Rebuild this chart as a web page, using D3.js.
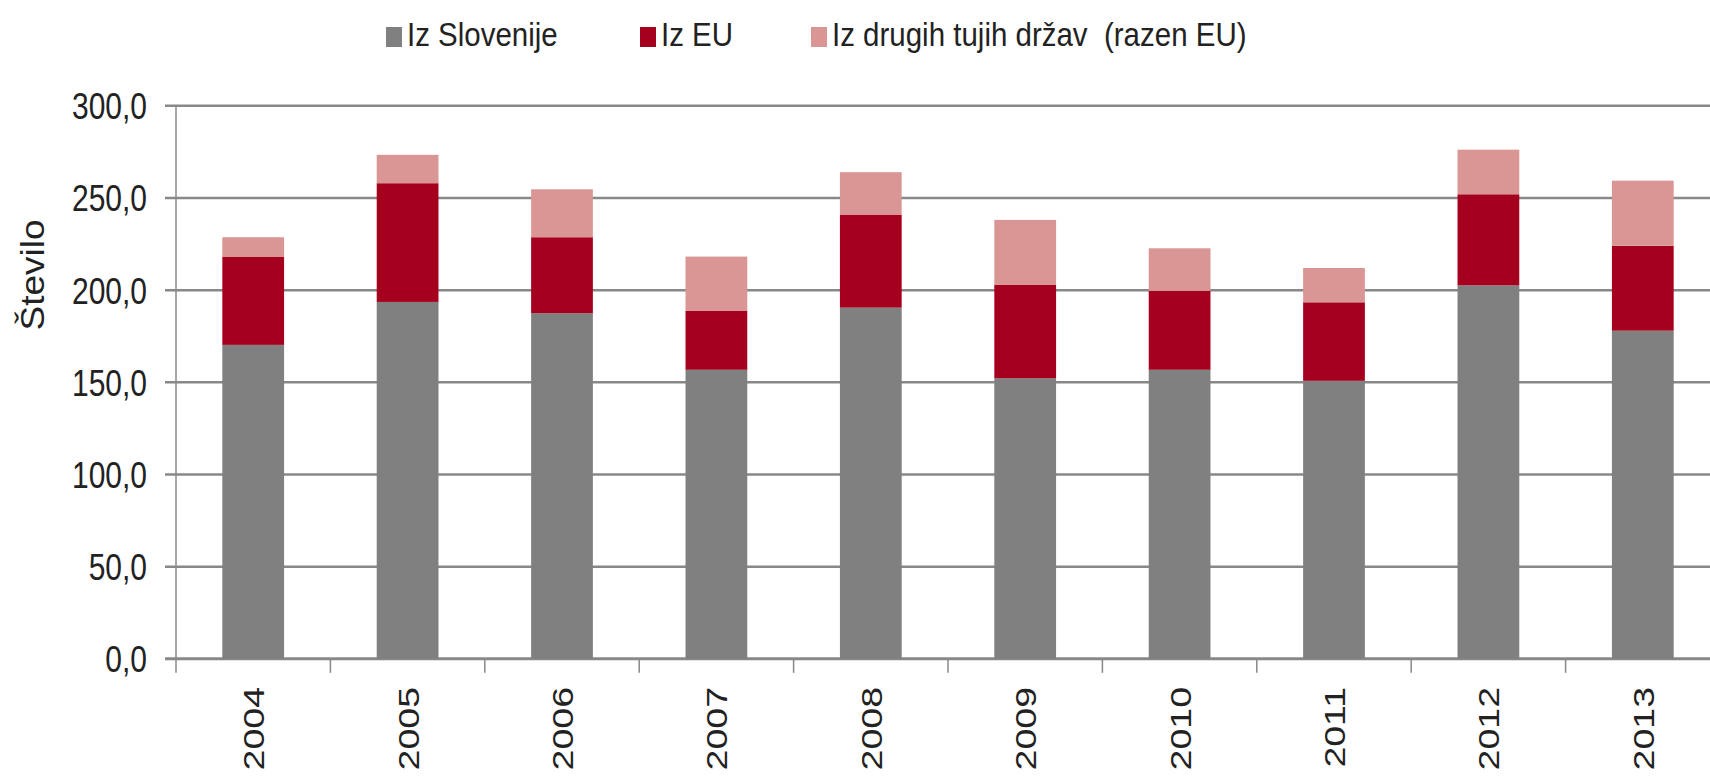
<!DOCTYPE html>
<html>
<head>
<meta charset="utf-8">
<script src="https://cdn.jsdelivr.net/npm/d3@7"></script>
<style>
  html, body { margin: 0; padding: 0; background: #fff; overflow: hidden; }
  text { font-family: "Liberation Sans", Arial, sans-serif; fill: #222; white-space: pre; }
</style>
</head>
<body>
<script>
var years = ['2004', '2005', '2006', '2007', '2008', '2009', '2010', '2011', '2012', '2013'];
var seriesNames = ['Iz Slovenije', 'Iz EU', 'Iz drugih tujih držav  (razen EU)'];
var fromSlovenia = [170.3, 193.6, 187.5, 156.8, 190.5, 152.2, 156.8, 150.8, 202.6, 178.0];
var fromEU = [47.9, 64.4, 41.2, 32.1, 50.5, 50.8, 42.8, 42.6, 49.4, 46.1];
var fromOther = [10.5, 15.4, 26.0, 29.3, 23.0, 35.1, 23.1, 18.6, 24.2, 35.3];
var yTicks = [0, 50, 100, 150, 200, 250, 300];

var chart = function() {
  var width = 1710;
  var height = 779;
  var left = 176;
  var right = 1720;
  var top = 105.8;
  var bottom = 658.8;
  var colors = ['#808080', '#a6001f', '#da9694'];
  var gridColor = '#888888';
  var svg, x, y;

  var fmt = function(v) {
    return v.toFixed(1).replace('.', ',');
  };

  var createSvg = function() {
    svg = d3.select('body')
      .append('svg')
      .attr('width', width)
      .attr('height', height);
  };

  var setScales = function() {
    x = d3.scaleBand().domain(years).range([left, right]).paddingInner(0.6).paddingOuter(0.3);
    y = d3.scaleLinear().domain([0, 300]).range([bottom, top]);
  };

  var drawGrid = function() {
    svg.append('g')
      .selectAll('line')
      .data(yTicks)
      .join('line')
      .attr('x1', left - 11)
      .attr('x2', width)
      .attr('y1', function(d) { return y(d); })
      .attr('y2', function(d) { return y(d); })
      .style('stroke', gridColor)
      .style('stroke-width', function(d) { return d === 0 ? 3 : 2.5; });

    svg.append('line')
      .attr('x1', left).attr('x2', left)
      .attr('y1', top).attr('y2', bottom)
      .style('stroke', gridColor)
      .style('stroke-width', 1.5);

    // ticks between categories
    var step = x.step();
    svg.append('g')
      .selectAll('line')
      .data(d3.range(years.length + 1))
      .join('line')
      .attr('x1', function(i) { return left + i * step; })
      .attr('x2', function(i) { return left + i * step; })
      .attr('y1', bottom)
      .attr('y2', bottom + 14)
      .style('stroke', gridColor)
      .style('stroke-width', 1.5);
  };

  var drawBars = function() {
    var rows = years.map(function(yr, i) {
      return { year: yr, s0: fromSlovenia[i], s1: fromEU[i], s2: fromOther[i] };
    });
    var stack = d3.stack().keys(['s0', 's1', 's2'])(rows);

    svg.append('g')
      .selectAll('g')
      .data(stack)
      .join('g')
      .style('fill', function(d, i) { return colors[i]; })
      .selectAll('rect')
      .data(function(d) { return d; })
      .join('rect')
      .attr('x', function(d) { return x(d.data.year); })
      .attr('width', x.bandwidth())
      .attr('y', function(d) { return y(d[1]); })
      .attr('height', function(d) { return y(d[0]) - y(d[1]); });
  };

  var drawLabels = function() {
    svg.append('g')
      .selectAll('text')
      .data(yTicks)
      .join('text')
      .attr('transform', function(d) { return 'translate(147,' + y(d) + ') scale(1,1.25)'; })
      .attr('dy', '0.358em')
      .attr('text-anchor', 'end')
      .style('font-size', '30px')
      .text(fmt);

    svg.append('g')
      .selectAll('text')
      .data(years)
      .join('text')
      .attr('transform', function(d) {
        return 'translate(' + (x(d) + x.bandwidth() / 2 + 11) + ',687) scale(1,1.25) rotate(-90)';
      })
      .attr('text-anchor', 'end')
      .style('font-size', '30px')
      .text(function(d) { return d; });

    svg.append('text')
      .attr('transform', 'translate(44,275) scale(1,1.12) rotate(-90)')
      .attr('text-anchor', 'middle')
      .style('font-size', '33px')
      .text('Število');
  };

  var drawLegend = function() {
    var xs = [386, 640, 811];
    var item = svg.append('g')
      .selectAll('g')
      .data(seriesNames)
      .join('g')
      .attr('transform', function(d, i) { return 'translate(' + xs[i] + ',0)'; });

    item.append('rect')
      .attr('x', 0)
      .attr('y', 27)
      .attr('width', 16)
      .attr('height', 20)
      .style('fill', function(d, i) { return colors[i]; });

    item.append('text')
      .attr('transform', 'translate(21,46) scale(1,1.15)')
      .style('font-size', '29.5px')
      .text(function(d) { return d; });
  };

  var render = function() {
    createSvg();
    setScales();
    drawGrid();
    drawBars();
    drawLabels();
    drawLegend();
  };

  return { render: render };
}();

chart.render();
</script>
</body>
</html>
